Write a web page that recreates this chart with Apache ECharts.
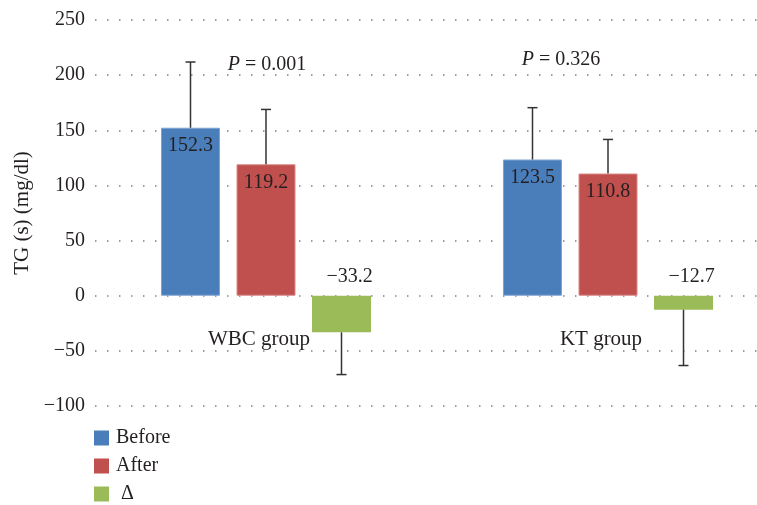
<!DOCTYPE html>
<html>
<head>
<meta charset="utf-8">
<script src="https://cdn.jsdelivr.net/npm/echarts@6/dist/echarts.min.js"></script>
<style>html,body{margin:0;padding:0;background:#fff}#c{width:757px;height:505px}</style>
</head>
<body>
<div id="c"></div>
<script>
const categories = ['WBC group', 'KT group'];
const before = [152.3, 123.5];
const after = [119.2, 110.8];
const delta = [-33.2, -12.7];
const beforeSD = [59.6, 47.0];
const afterSD = [49.7, 30.9];
const deltaSD = [38.3, 50.6];
const pValues = ['0.001', '0.326'];
const pLevels = [209.5, 214];
const yMin = -100, yMax = 250, yStep = 50;

const FONT = 'Liberation Serif';
const TXT = '#231f20';
const FS = 20;
const BAR_W = 59, BAR_STEP = 75.5;
const minus = v => String(v).replace('-', '\u2212');

const errData = [];
[before, after, delta].forEach((arr, s) => {
  const sds = [beforeSD, afterSD, deltaSD][s];
  arr.forEach((v, i) => errData.push([i, v, sds[i], s]));
});

const chart = echarts.init(document.getElementById('c'));
chart.setOption({
  animation: false,
  textStyle: { fontFamily: FONT, color: TXT },
  grid: { left: 95, top: 20, width: 684, height: 386, outerBoundsMode: 'none', containLabel: false },
  legend: {
    data: ['Before', 'After', 'Δ'],
    orient: 'vertical', left: 94, top: 428, itemGap: 8, padding: 0, height: 80,
    icon: 'rect', itemWidth: 15, itemHeight: 15,
    itemStyle: { borderWidth: 0 },
    formatter: n => n === 'Δ' ? ' Δ' : n,
    textStyle: { fontFamily: FONT, fontSize: FS, color: TXT, padding: [0, 0, 0, 2] }
  },
  xAxis: {
    type: 'category', data: categories,
    axisLine: { show: false }, axisTick: { show: false },
    axisLabel: { show: false }
  },
  yAxis: {
    type: 'value', min: yMin, max: yMax, interval: yStep,
    name: 'TG (s) (mg/dl)', nameLocation: 'middle', nameGap: 61,
    nameTextStyle: { fontFamily: FONT, fontSize: 21, color: TXT },
    axisLine: { show: false }, axisTick: { show: false },
    axisLabel: { margin: 10, fontFamily: FONT, fontSize: FS, color: TXT, formatter: minus },
    splitLine: { lineStyle: { color: '#808080', width: 1.5, type: [1.5, 10.5] } }
  },
  series: [
    { name: 'Before', type: 'bar', data: before, barWidth: BAR_W, barGap: '28%',
      itemStyle: { color: '#4a7ebb', borderColor: '#7ea3d3', borderWidth: 1 },
      label: { show: true, position: 'insideTop', distance: 8, fontFamily: FONT, fontSize: FS, color: TXT } },
    { name: 'After', type: 'bar', data: after, barWidth: BAR_W, barGap: '28%',
      itemStyle: { color: '#c0504d', borderColor: '#d88a88', borderWidth: 1 },
      label: { show: true, position: 'insideTop', distance: 8, fontFamily: FONT, fontSize: FS, color: TXT } },
    { name: 'Δ', type: 'bar', data: delta, barWidth: BAR_W, barGap: '28%',
      itemStyle: { color: '#9bbb59' },
      label: { show: true, position: 'top', distance: 9, offset: [8, 0], fontFamily: FONT, fontSize: FS, color: TXT,
        formatter: p => minus(p.value) } },
    { type: 'custom', data: errData, encode: { x: 0, y: 1 }, z: 5,
      renderItem: (params, api) => {
        const i = api.value(0), v = api.value(1), sd = api.value(2), s = api.value(3);
        const end = v >= 0 ? v + sd : v - sd;
        const p0 = api.coord([i, v]);
        const p1 = api.coord([i, end]);
        const x = p0[0] + (s - 1) * BAR_STEP;
        const st = { stroke: '#333', lineWidth: 1.5 };
        return { type: 'group', children: [
          { type: 'line', shape: { x1: x, y1: p0[1], x2: x, y2: p1[1] }, style: st },
          { type: 'line', shape: { x1: x - 5, y1: p1[1], x2: x + 5, y2: p1[1] }, style: st }
        ]};
      } },
    { type: 'scatter', symbolSize: 0, z: 6, silent: true, itemStyle: { opacity: 1 },
      data: pLevels.map((v, i) => ({ value: [i, v],
        label: { offset: [i === 0 ? 1 : -47, 0] } })),
      label: { show: true, position: 'inside', opacity: 1,
        formatter: p => '{i|P} = ' + pValues[p.dataIndex],
        fontFamily: FONT, fontSize: FS, color: TXT,
        rich: { i: { fontStyle: 'italic', fontFamily: FONT, fontSize: FS, color: TXT } } } },
    { type: 'scatter', symbolSize: 0, z: 6, silent: true, itemStyle: { opacity: 1 },
      data: categories.map((c, i) => [i, 0]),
      label: { show: true, position: 'inside', offset: [-7, 44], opacity: 1,
        formatter: p => categories[p.dataIndex],
        fontFamily: FONT, fontSize: 21, color: TXT } }
  ]
});
</script>
</body>
</html>
